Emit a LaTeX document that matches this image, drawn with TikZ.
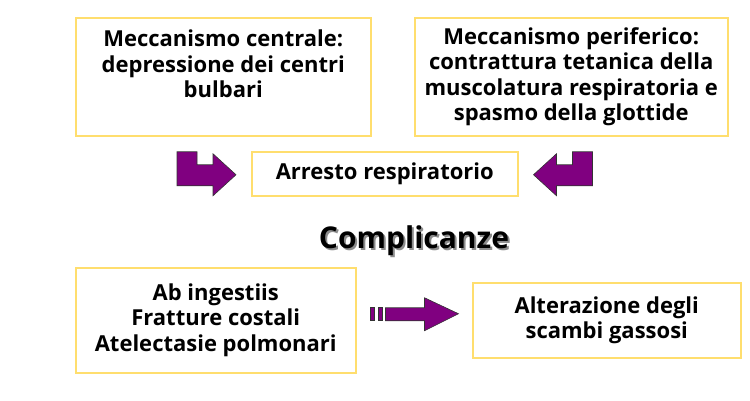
\documentclass[tikz,border=0pt]{standalone}
\usepackage{fontspec}
\setmainfont{Open Sans}
\definecolor{boxgold}{RGB}{255,222,110}
\definecolor{arrowpurple}{RGB}{128,0,128}

\begin{document}
\begin{tikzpicture}[x=1pt,y=-1pt,line join=miter,
  every node/.style={font=\bfseries\fontsize{22}{25.5}\selectfont},
  box/.style={draw=boxgold,line width=1.5pt,fill=white,align=center,inner sep=0pt,anchor=north west},
  blockarrow/.style={draw=black!80,line width=0.6pt,fill=arrowpurple}]
  \useasboundingbox (0,0) rectangle (750,400);
  % boxes
  \node[box,minimum width=295,minimum height=118] (centrale) at (75,17)
    {Meccanismo centrale:\\depressione dei centri\\bulbari\\\mbox{}};
  \node[box,minimum width=313,minimum height=118] (periferico) at (414,17)
    {Meccanismo periferico:\\contrattura tetanica della\\muscolatura respiratoria e\\spasmo della glottide};
  \node[box,minimum width=266,minimum height=44] (arresto) at (251,151) {Arresto respiratorio};
  \node[box,minimum width=280,minimum height=105] (ingestiis) at (75,267)
    {Ab ingestiis\\Fratture costali\\Atelectasie polmonari};
  \node[box,minimum width=268,minimum height=75] (scambi) at (472,282)
    {Alterazione degli\\scambi gassosi};
  % title with shadow
  \node[font=\bfseries\fontsize{30}{34}\selectfont] (complicanze) at (414,242)
    {\rlap{\kern2pt\raisebox{-2pt}{\color{black!45}Complicanze}}Complicanze};
  % bent arrows
  \draw[blockarrow,shift={(arresto.west)}] (-74,-22) -- (-54,-22) -- (-54,-9) -- (-38,-9) -- (-38,-20)
    -- (-15,1) -- (-38,22) -- (-38,12) -- (-74,12) -- cycle;
  \draw[blockarrow,shift={(arresto.east)},xscale=-1] (-74,-22) -- (-54,-22) -- (-54,-9) -- (-38,-9) -- (-38,-20)
    -- (-15,1) -- (-38,22) -- (-38,12) -- (-74,12) -- cycle;
  % striped arrow
  \begin{scope}[shift={(ingestiis.east)}]
    \foreach \xa/\xb in {14/18,22/26}{
      \draw[blockarrow] (\xa,-12.5) rectangle (\xb,0.5);
    }
    \draw[blockarrow] (29,-12.5) -- (68,-12.5) -- (68,-22.5) -- (102,-6.5) -- (68,10.5) -- (68,0.5) -- (29,0.5) -- cycle;
  \end{scope}
\end{tikzpicture}
\end{document}
